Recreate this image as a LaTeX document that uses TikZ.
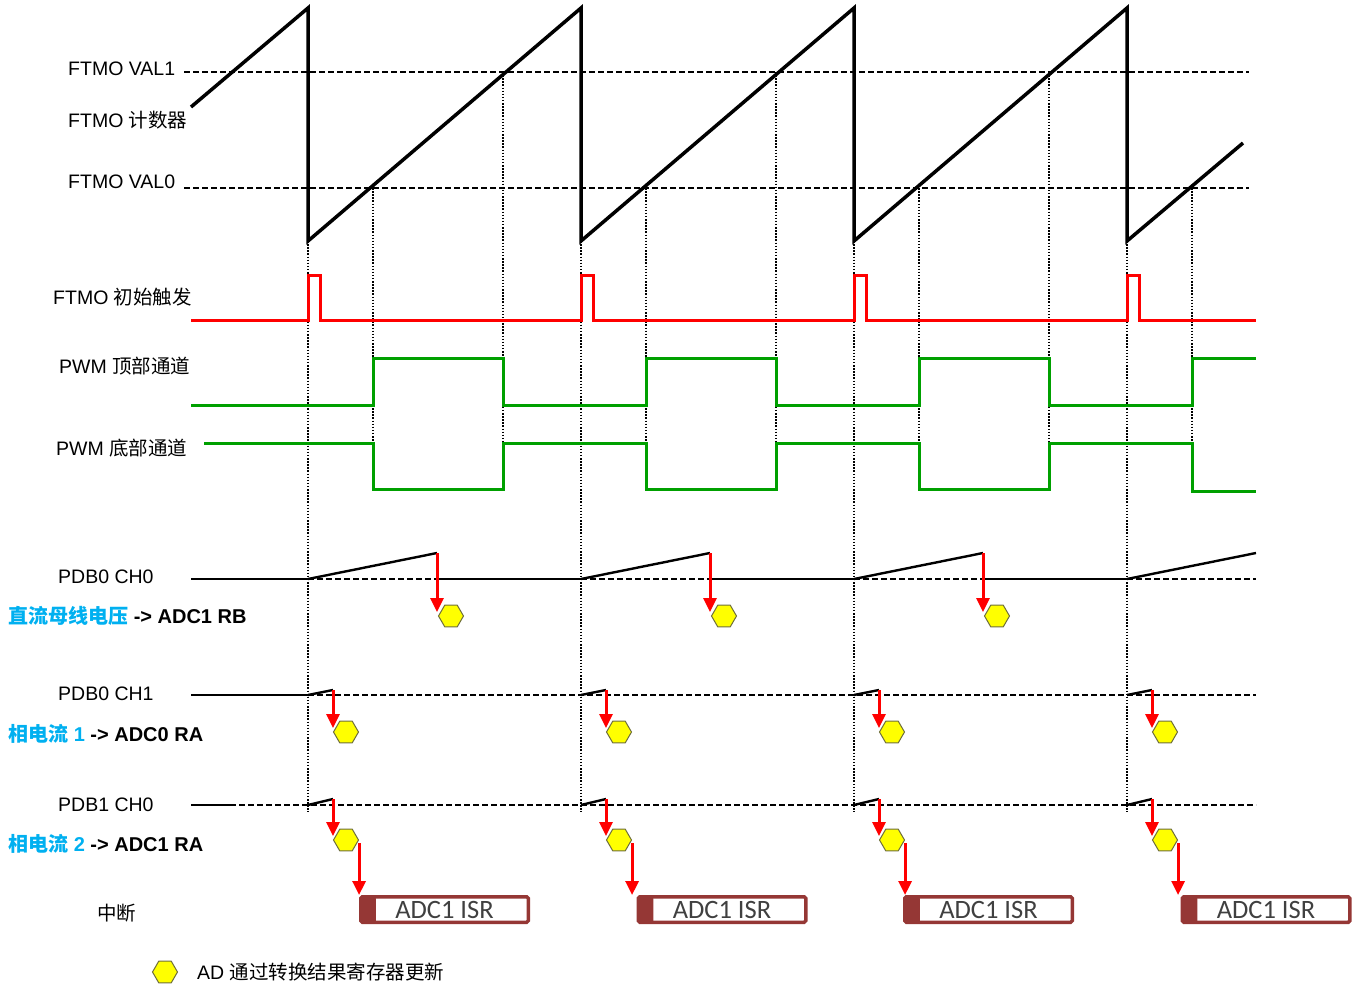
\documentclass[tikz,border=0pt]{standalone}
\usepackage{fontspec}
\setmainfont{Liberation Sans}
\newfontfamily\cjk{Noto Sans CJK SC}
\newfontfamily\calib{Carlito}
\usetikzlibrary{shapes.geometric,arrows.meta,calc}

\definecolor{sigred}{RGB}{255,0,0}
\definecolor{siggreen}{RGB}{0,160,0}
\definecolor{cyantext}{RGB}{0,176,240}
\definecolor{isrred}{RGB}{149,55,53}
\definecolor{hexfill}{RGB}{255,255,0}
\definecolor{hexdraw}{RGB}{110,110,60}

\begin{document}
\begin{tikzpicture}[x=1pt,y=-1pt,
 lbl/.style={anchor=base west,inner sep=0pt,font=\fontsize{19.5}{22}\selectfont},
 blbl/.style={anchor=base west,inner sep=0pt,font=\fontsize{20}{22}\selectfont\bfseries},
 saw/.style={line width=3.5pt,black,line join=miter},
 redsig/.style={line width=3pt,sigred},
 greensig/.style={line width=3pt,siggreen},
 level/.style={line width=2.4pt,black,dash pattern=on 6pt off 3pt},
 gridline/.style={line width=2pt,dash pattern=on 1.5pt off 1.6pt,black},
 baseln/.style={line width=2.2pt,black},
 rampln/.style={line width=2.4pt,black},
 hexa/.style={regular polygon,regular polygon sides=6,minimum size=25pt,inner sep=0pt,fill=hexfill,draw=hexdraw,line width=1pt},
 redarrow/.style={line width=3pt,sigred,-{Triangle[width=13pt,length=14pt]}},
 isr/.style={draw=isrred,line width=3.5pt,rounded corners=1.5pt,minimum width=167.5pt,minimum height=25.5pt,inner sep=0pt,
   font=\calib\fontsize{26.5}{26.5}\selectfont,text=black!75,
   path picture={\fill[isrred] (path picture bounding box.north west) rectangle ([xshift=15pt]path picture bounding box.south west);}}
]
\useasboundingbox (0,0) rectangle (1361,986);

% ---------- vertical dotted guides ----------
\foreach \k in {0,1,2,3}{
  \pgfmathsetmacro\tA{308+273*\k}
  \pgfmathsetmacro\tB{373+273*\k}
  \draw[gridline] (\tA,241) -- (\tA,812);
  \draw[gridline] (\tB,188) -- (\tB,489);
}
\foreach \k in {0,1,2}{
  \pgfmathsetmacro\tC{503+273*\k}
  \draw[gridline] (\tC,72) -- (\tC,489);
}

% ---------- counter levels ----------
\draw[level] (184,72) -- (1249,72);
\draw[level] (184,188) -- (1249,188);

% ---------- sawtooth counter ----------
\draw[saw] (191,107) -- (308,8) -- (308,241) -- (581,8) -- (581,241) -- (854,8) -- (854,241)
  -- (1127,8) -- (1127,241) -- (1243,143);

% ---------- initial trigger ----------
\draw[redsig] (191,320) -- (308,320) -- (308,275) -- (320,275) -- (320,320)
  -- (581,320) -- (581,275) -- (593,275) -- (593,320)
  -- (854,320) -- (854,275) -- (866,275) -- (866,320)
  -- (1127,320) -- (1127,275) -- (1139,275) -- (1139,320) -- (1256,320);

% ---------- PWM top ----------
\draw[greensig] (191,405) -- (373,405) -- (373,358) -- (503,358) -- (503,405)
  -- (646,405) -- (646,358) -- (776,358) -- (776,405)
  -- (919,405) -- (919,358) -- (1049,358) -- (1049,405)
  -- (1192,405) -- (1192,358) -- (1256,358);
% ---------- PWM bottom ----------
\draw[greensig] (204,443) -- (373,443) -- (373,489) -- (503,489) -- (503,443)
  -- (646,443) -- (646,489) -- (776,489) -- (776,443)
  -- (919,443) -- (919,489) -- (1049,489) -- (1049,443)
  -- (1192,443) -- (1192,491) -- (1256,491);

% ---------- PDB0 CH0 ----------
\draw[baseln] (191,579) -- (308,579);
\foreach \k in {0,1,2,3}{
  \pgfmathsetmacro\sA{308+273*\k}
  \pgfmathsetmacro\sB{437+273*\k}
  \draw[level] (\sA,579) -- (\sB,579);
  \draw[rampln] (\sA,579) -- (\sB,553);
}
\foreach \k in {0,1,2}{
  \pgfmathsetmacro\sB{437+273*\k}
  \pgfmathsetmacro\sC{581+273*\k}
  \draw[baseln] (\sB,579) -- (\sC,579);
  \pgfmathsetmacro\hx{451+273*\k}
  \coordinate (pA\k) at (\sB,553);
  \node[hexa] (hA\k) at (\hx,616) {};
  \draw[redarrow] (pA\k) -- ($(pA\k |- hA\k.west)+(0,-4)$);
}

% ---------- PDB0 CH1 ----------
\draw[baseln] (191,695) -- (308,695);
\draw[level] (308,695) -- (1256,695);
% ---------- PDB1 CH0 ----------
\draw[baseln] (191,805) -- (230,805);
\draw[level] (230,805) -- (1256,805);

\foreach \k/\bx in {0/444.5,1/722,2/988.5,3/1266}{
  \pgfmathsetmacro\sA{308+273*\k}
  \pgfmathsetmacro\sD{333+273*\k}
  \pgfmathsetmacro\hx{346+273*\k}
  \draw[rampln] (\sA,695) -- (\sD,690);
  \draw[rampln] (\sA,805) -- (\sD,799);
  \coordinate (pB\k) at (\sD,690);
  \coordinate (pC\k) at (\sD,799);
  \node[hexa] (hB\k) at (\hx,732) {};
  \node[hexa] (hC\k) at (\hx,840) {};
  \draw[redarrow] (pB\k) -- ($(pB\k |- hB\k.west)+(0,-4)$);
  \draw[redarrow] (pC\k) -- ($(pC\k |- hC\k.west)+(0,-4)$);
  \node[isr] (isr\k) at (\bx,909.5) {ADC1 ISR};
  \draw[redarrow] ([yshift=-3pt]hC\k.east) -- (hC\k.east |- isr\k.north);
}

% ---------- labels ----------
\node[lbl] (lval1) at (68,75) {FTMO VAL1};
\node[lbl] (lcnt) at (68,127) {FTMO {\cjk 计数器}};
\node[lbl] (lval0) at (68,188) {FTMO VAL0};
\node[lbl] (ltrig) at (53,304) {FTMO {\cjk 初始触发}};
\node[lbl] (lpwmt) at (59,373) {PWM {\cjk 顶部通道}};
\node[lbl] (lpwmb) at (56,455) {PWM {\cjk 底部通道}};
\node[lbl] (lpdb00) at (58,583) {PDB0 CH0};
\node[blbl] (lvbus) at (8,623) {\textcolor{cyantext}{\cjk\bfseries 直流母线电压} -> ADC1 RB};
\node[lbl] (lpdb01) at (58,700) {PDB0 CH1};
\node[blbl] (lph1) at (8,741) {\textcolor{cyantext}{{\cjk\bfseries 相电流} 1} -> ADC0 RA};
\node[lbl] (lpdb10) at (58,811) {PDB1 CH0};
\node[blbl] (lph2) at (8,851) {\textcolor{cyantext}{{\cjk\bfseries 相电流} 2} -> ADC1 RA};
\node[lbl] (lint) at (97,920) {\cjk 中断};
\node[hexa] (hleg) at (165,972) {};
\node[lbl] (lleg) at (197,979) {AD {\cjk 通过转换结果寄存器更新}};
\end{tikzpicture}
\end{document}
